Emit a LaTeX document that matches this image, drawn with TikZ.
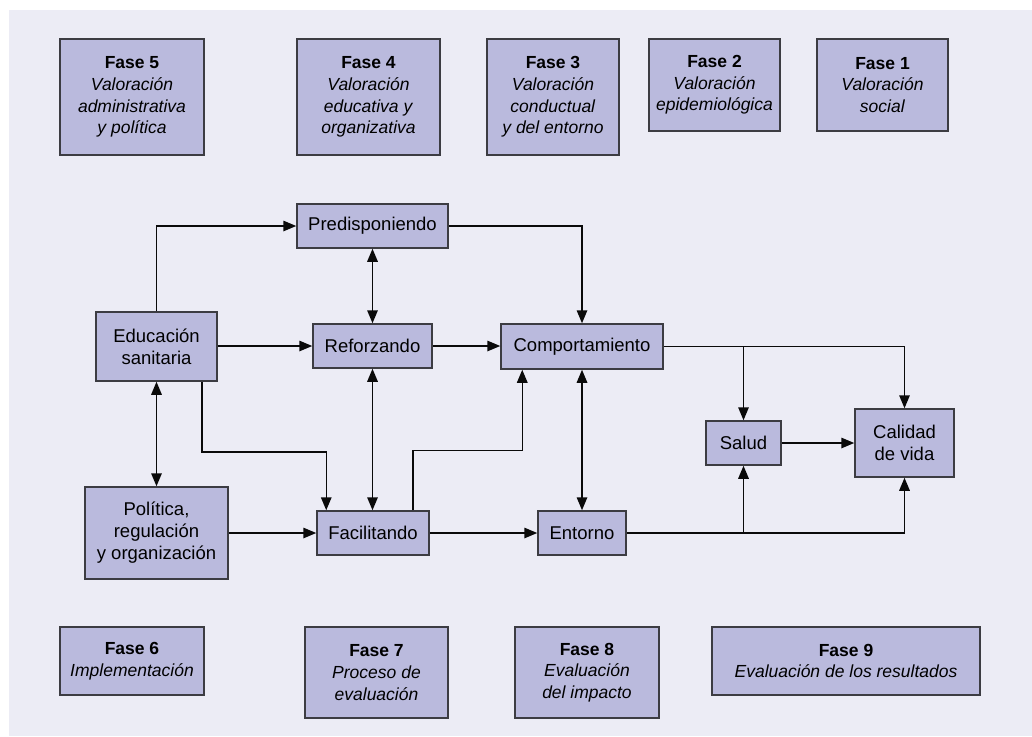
\documentclass[tikz,border=0pt]{standalone}
\usepackage{fontspec}
\setmainfont{Liberation Sans}
\usetikzlibrary{arrows.meta}

\definecolor{bgc}{RGB}{236,236,245}
\definecolor{boxfill}{RGB}{186,186,221}
\definecolor{boxline}{RGB}{60,60,66}
\definecolor{linec}{RGB}{10,10,10}

\tikzset{
  box/.style={draw=boxline, fill=boxfill, line width=1.5pt, inner sep=0pt,
    align=center, font=\fontsize{18.5}{22}\selectfont},
  phase/.style={box, font=\fontsize{17.5}{21.7}\selectfont},
  arr/.style={draw=linec, line width=1.5pt, -{Triangle[length=13pt,width=10.5pt]}},
  dbl/.style={draw=linec, line width=1.5pt, {Triangle[length=13pt,width=10.5pt]}-{Triangle[length=13pt,width=10.5pt]}},
}

\begin{document}
\begin{tikzpicture}[x=1pt,y=-1pt]
  \path[use as bounding box] (0,0) rectangle (1032,736);
  \fill[bgc] (9,10) rectangle (1032,736);

  % phase boxes, top row
  \node[phase, minimum width=144pt, minimum height=116pt] (f5) at (132,97) {\textbf{Fase 5}\\\textit{Valoración}\\\textit{administrativa}\\\textit{y política}};
  \node[phase, minimum width=143pt, minimum height=116pt] (f4) at (368.5,97) {\textbf{Fase 4}\\\textit{Valoración}\\\textit{educativa y}\\\textit{organizativa}};
  \node[phase, minimum width=132pt, minimum height=116pt] (f3) at (553,97) {\textbf{Fase 3}\\\textit{Valoración}\\\textit{conductual}\\\textit{y del entorno}};
  \node[phase, minimum width=131pt, minimum height=92pt] (f2) at (714.5,85) {\textbf{Fase 2}\\\textit{Valoración}\\\textit{epidemiológica}};
  \node[phase, minimum width=131pt, minimum height=92pt] (f1) at (882.5,85) {\textbf{Fase 1}\\\textit{Valoración}\\\textit{social}};

  % model boxes
  \node[box, minimum width=151pt, minimum height=44pt] (pred) at (372.5,226) {Predisponiendo};
  \node[box, minimum width=121pt, minimum height=69pt] (edu) at (156.5,346.5) {Educación\\sanitaria};
  \node[box, minimum width=119pt, minimum height=44pt] (ref) at (372.5,346) {Reforzando};
  \node[box, minimum width=162pt, minimum height=45pt] (comp) at (582,346.5) {Comportamiento};
  \node[box, minimum width=75pt, minimum height=44pt] (salud) at (743.5,443) {Salud};
  \node[box, minimum width=99pt, minimum height=68pt] (cal) at (904.5,443) {Calidad\\de vida};
  \node[box, minimum width=88pt, minimum height=44pt] (ent) at (582,533) {Entorno};
  \node[box, minimum width=143pt, minimum height=92pt] (pol) at (156.5,533) {Política,\\regulación\\y organización};
  \node[box, minimum width=112pt, minimum height=44pt] (fac) at (373,533) {Facilitando};

  % phase boxes, bottom row
  \node[phase, minimum width=144pt, minimum height=68pt] (f6) at (132,661) {\textbf{Fase 6}\\\textit{Implementación}};
  \node[phase, minimum width=143pt, minimum height=91pt] (f7) at (376.5,672.5) {\textbf{Fase 7}\\\textit{Proceso de}\\\textit{evaluación}};
  \node[phase, minimum width=144pt, minimum height=91pt] (f8) at (587,672.5) {\textbf{Fase 8}\\\textit{Evaluación}\\\textit{del impacto}};
  \node[phase, minimum width=268pt, minimum height=68pt] (f9) at (846,661) {\textbf{Fase 9}\\\textit{Evaluación de los resultados}};

  % connectors
  \draw[arr] (edu.north) |- (pred.west);
  \draw[arr] (pred.east) -| (comp.north);
  \draw[dbl] (pred.south) -- (ref.north);
  \draw[arr] (edu.east |- ref.west) -- (ref.west);
  \draw[arr] (ref.east) -- (comp.west |- ref.east);
  \draw[dbl] (edu.south) -- (pol.north);
  \draw[arr] ([xshift=-16pt]edu.south east) -- ++(0,70) -| ([xshift=10pt]fac.north west);
  \draw[dbl] (ref.south) -- (ref.south |- fac.north);
  \draw[arr] ([xshift=-17pt]fac.north east) -- ++(0,-60) -| ([xshift=22pt]comp.south west);
  \draw[arr] (pol.east) -- (fac.west);
  \draw[arr] (fac.east) -- (ent.west);
  \draw[dbl] (comp.south) -- (ent.north);
  \draw[arr] (comp.east) -| (cal.north);
  \draw[arr] (comp.east -| salud.north) -- (salud.north);
  \draw[arr] (salud.east) -- (cal.west);
  \draw[arr] (ent.east) -| (cal.south);
  \draw[arr] (ent.east -| salud.south) -- (salud.south);
\end{tikzpicture}
\end{document}
